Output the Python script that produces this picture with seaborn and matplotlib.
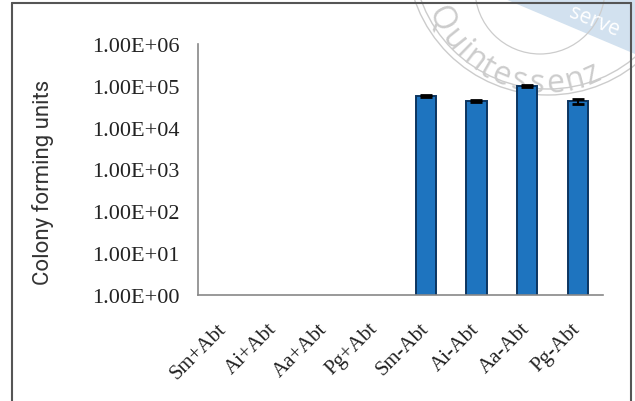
import numpy as np
import pandas as pd
import matplotlib
matplotlib.use("Agg")
import matplotlib.pyplot as plt
from matplotlib.lines import Line2D
from matplotlib.patches import Circle, Polygon
from matplotlib.ticker import FixedLocator, FuncFormatter
import seaborn as sns

# ---- data ----
categories = ["Sm+Abt", "Ai+Abt", "Aa+Abt", "Pg+Abt", "Sm-Abt", "Ai-Abt", "Aa-Abt", "Pg-Abt"]
cfu = [0, 0, 0, 0, 5.7e4, 4.4e4, 9.8e4, 4.3e4]
cfu_err = [0, 0, 0, 0, 3.0e3, 2.5e3, 4.0e3, 5.5e3]
ytick_values = [1e0, 1e1, 1e2, 1e3, 1e4, 1e5, 1e6]
ylabel = "Colony forming units"

sns.set_style("white")
plt.rcParams["font.family"] = ["Liberation Serif", "DejaVu Serif"]

fig = plt.figure(figsize=(6.35, 4.02), dpi=100)
fig.patch.set_facecolor("white")
ax = fig.add_axes([198 / 635, 1 - 296 / 402, (603 - 198) / 635, (296 - 45) / 402])
ax.patch.set_alpha(0)

df = pd.DataFrame({"cat": categories, "cfu": cfu})
sns.barplot(data=df, x="cat", y="cfu", order=categories, color="#1e74bf",
            edgecolor="#0c3560", linewidth=1.4, width=0.4, saturation=1,
            errorbar=None, ax=ax)
ax.set_yscale("log")
xs = np.arange(len(categories))
mask = np.array(cfu) > 0
ax.errorbar(xs[mask], np.array(cfu)[mask], yerr=np.array(cfu_err)[mask],
            fmt="none", ecolor="black", elinewidth=1.5, capsize=4, capthick=2, zorder=5)

ax.set_ylim(1, 1e6)
ax.set_xlim(-0.5, len(categories) - 0.5)
ax.yaxis.set_major_locator(FixedLocator(ytick_values))
ax.yaxis.set_minor_locator(FixedLocator([]))
ax.yaxis.set_major_formatter(FuncFormatter(lambda v, p: f"{v:.2E}"))
ax.set_xticks(xs)
ax.set_xticklabels(categories, rotation=45, ha="right", va="center",
                   rotation_mode="anchor", fontsize=15, color="#222222")
ax.set_xticks(np.arange(-0.5, len(categories), 1.0), minor=True)
ax.tick_params(axis="x", which="major", length=0, pad=22)
ax.tick_params(axis="x", which="minor", length=5, width=1, color="#888888", direction="out")
ax.tick_params(axis="y", which="major", length=4, width=1, color="#888888",
               direction="out", pad=9, labelsize=16, labelcolor="#222222")
ax.set_xlabel("")
ax.set_ylabel("")
for s in ["top", "right"]:
    ax.spines[s].set_visible(False)
for s in ["left", "bottom"]:
    ax.spines[s].set_color("#888888")
    ax.spines[s].set_linewidth(1.2)

fig.text(43 / 635, 1 - 182 / 402, ylabel, rotation=90, ha="center", va="center",
         fontsize=16, family=["Roboto", "DejaVu Sans"], color="#333333")

# ---- watermark overlay (pixel coordinates) ----
ov = fig.add_axes([0, 0, 1, 1], zorder=-1)
ov.set_xlim(0, 635)
ov.set_ylim(402, 0)
ov.axis("off")
ov.add_patch(Polygon([[505, 0], [635, 0], [635, 55]], closed=True,
                     facecolor="#d2e1ef", edgecolor="none"))
ov.text(594, 22, "serve", rotation=-22, ha="center", va="center", fontsize=15,
        color="white", family=["Open Sans", "DejaVu Sans"])
wm = "#cccccc"
for r in (135, 141):
    ov.add_patch(Circle((548, -45), r, fill=False, edgecolor=wm, linewidth=1.0))
ov.add_patch(Circle((540, -10), 65, fill=False, edgecolor=wm, linewidth=0.9))
word = "Quintessenz"
widths = [0.78, 0.56, 0.24, 0.56, 0.3, 0.56, 0.5, 0.5, 0.56, 0.56, 0.5]
cx, cy, rr = 545, -33, 117
theta0, theta1 = 153.0, 66.0
total = sum(widths) - widths[0] / 2 - widths[-1] / 2
acc = 0.0
for i, (ch, w) in enumerate(zip(word, widths)):
    if i > 0:
        acc += (widths[i - 1] + w) / 2
    th = theta0 + (theta1 - theta0) * acc / total
    t = np.deg2rad(th)
    px, py = cx + rr * np.cos(t), cy + rr * np.sin(t)
    ov.text(px, py, ch, rotation=90 - th, ha="center", va="center", fontsize=23,
            color=wm, family=["Open Sans", "DejaVu Sans"], rotation_mode="anchor")

# ---- outer frame ----
fc = "#555555"
fig.add_artist(Line2D([12 / 635, 12 / 635], [0, 1 - 4 / 402], color=fc, lw=1.5, transform=fig.transFigure))
fig.add_artist(Line2D([12 / 635, 631 / 635], [1 - 4 / 402, 1 - 4 / 402], color=fc, lw=1.5, transform=fig.transFigure))
fig.add_artist(Line2D([631 / 635, 631 / 635], [0, 1 - 4 / 402], color=fc, lw=1.5, transform=fig.transFigure))

fig.savefig("out.png", dpi=100)
